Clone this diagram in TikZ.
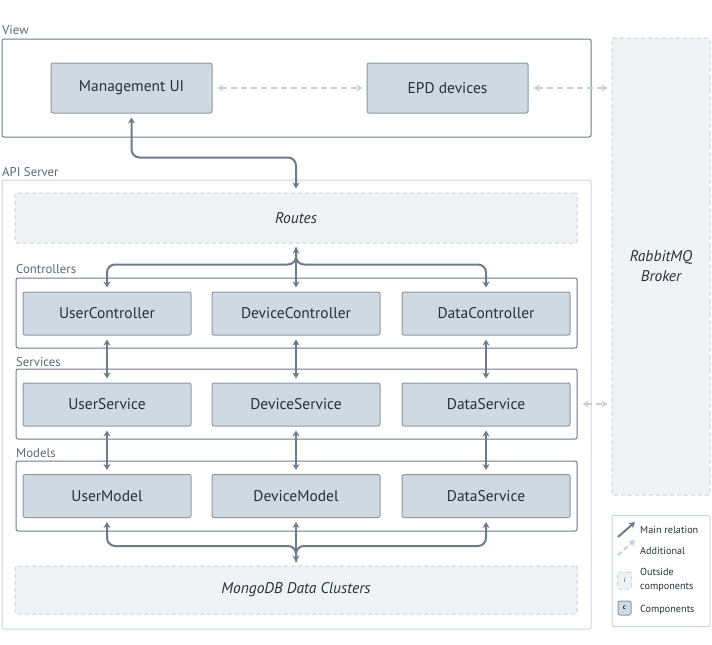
\documentclass[tikz,border=0pt]{standalone}
\usepackage{fontspec}
\setmainfont{PT Sans}
\usepackage{xcolor}
\usetikzlibrary{arrows.meta,calc}

\definecolor{edgegray}{HTML}{6E7B89}
\definecolor{litegray}{HTML}{C7D0D9}
\definecolor{compfill}{HTML}{CFD9E1}
\definecolor{compline}{HTML}{8C98A4}
\definecolor{outfill}{HTML}{F0F3F6}
\definecolor{outline}{HTML}{CBD3DB}
\definecolor{ink}{HTML}{27313B}
\definecolor{labelgray}{HTML}{5E6A76}

\tikzset{
  comp/.style={draw=compline, fill=compfill, line width=1pt, rounded corners=2pt,
    minimum width=168pt, minimum height=43pt, inner sep=0pt, text=ink,
    font=\fontsize{15.5}{17}\selectfont},
  outside/.style={draw=outline, fill=outfill, line width=1pt, dash pattern=on 4pt off 3pt,
    rounded corners=2pt, inner sep=0pt, text=ink, font=\fontsize{15.5}{20}\selectfont\itshape},
  group/.style={draw=edgegray, line width=1pt, rounded corners=2pt, inner sep=0pt},
  grouplabel/.style={anchor=base west, inner sep=0pt, text=labelgray,
    font=\fontsize{12.8}{14}\selectfont},
  mainrel/.style={draw=edgegray, line width=2pt, rounded corners=8pt,
    {Stealth[length=6pt,width=7pt]}-{Stealth[length=6pt,width=7pt]},
    shorten <=4pt, shorten >=4pt},
  branch/.style={draw=edgegray, line width=2pt, rounded corners=8pt,
    -{Stealth[length=6pt,width=7pt]}, shorten <=4pt, shorten >=4pt},
  addrel/.style={draw=litegray, line width=2pt, dash pattern=on 6pt off 4pt,
    {Stealth[length=6pt,width=7pt]}-{Stealth[length=6pt,width=7pt]},
    shorten <=5pt, shorten >=4pt},
  legtext/.style={anchor=base west, inner sep=0pt, text=ink, font=\fontsize{10.2}{12}\selectfont}
}

\begin{document}
\begin{tikzpicture}[x=1pt,y=-1pt]
\useasboundingbox (0,0) rectangle (712,645);
\def\cA{107}   % left column
\def\cB{296}   % middle column
\def\cC{486}   % right column

% View layer
\node[grouplabel] (viewlbl) at (2,34) {View};
\node[group, fill=white, minimum width=589pt, minimum height=98pt] (view) at (296.5,88) {};
\node[comp, minimum width=161pt, minimum height=50pt] (mgmt) at (131.5,88) {Management UI};
\node[comp, minimum width=161pt, minimum height=50pt] (epd) at (447.5,88) {EPD devices};

% RabbitMQ broker
\node[outside, minimum width=98pt, minimum height=457pt, align=center] (rabbit) at (661,266.5) {RabbitMQ\\Broker};

% API server
\node[grouplabel] (apilbl) at (2,176) {API Server};
\node[draw=outline, line width=1pt, rounded corners=2pt, inner sep=0pt,
  minimum width=589pt, minimum height=449pt] (api) at (296.5,404.5) {};
\node[outside, minimum width=562pt, minimum height=50pt] (routes) at (296,218) {Routes};

% Controllers
\node[grouplabel] (ctllbl) at (16,273) {Controllers};
\node[group, minimum width=561pt, minimum height=70pt] (ctl) at (296.5,313) {};
\node[comp] (uc) at (\cA,313.5) {UserController};
\node[comp] (dc) at (\cB,313.5) {DeviceController};
\node[comp] (tc) at (\cC,313.5) {DataController};

% Services
\node[grouplabel] (svclbl) at (16,366) {Services};
\node[group, minimum width=561pt, minimum height=70pt] (svc) at (296.5,404) {};
\node[comp] (us) at (\cA,404.5) {UserService};
\node[comp] (ds) at (\cB,404.5) {DeviceService};
\node[comp] (ts) at (\cC,404.5) {DataService};

% Models
\node[grouplabel] (mdllbl) at (16,457) {Models};
\node[group, minimum width=561pt, minimum height=70pt] (mdl) at (296.5,496) {};
\node[comp] (um) at (\cA,496) {UserModel};
\node[comp] (dm) at (\cB,496) {DeviceModel};
\node[comp] (tm) at (\cC,496) {DataService};

\node[outside, minimum width=562pt, minimum height=48pt] (mongo) at (296,590) {MongoDB Data Clusters};

% relations
\draw[addrel] (mgmt.east) -- (epd.west);
\draw[addrel] (epd.east) -- (rabbit.west |- epd.east);
\draw[addrel] (svc.east) -- (rabbit.west |- svc.east);
\draw[mainrel] (mgmt.south) -- ++(0,44) -| (routes.north);

\draw[mainrel] (routes.south) -- (dc.north);
\draw[branch] (routes.south) |- ($(uc.north)+(0,-27)$) -- (uc.north);
\draw[branch] (routes.south) |- ($(tc.north)+(0,-27)$) -- (tc.north);

\foreach \a/\b in {uc/us,dc/ds,tc/ts,us/um,ds/dm,ts/tm}
  \draw[mainrel] (\a.south) -- (\b.north);

\draw[mainrel] (dm.south) -- (mongo.north);
\draw[branch] (mongo.north) |- ($(um.south)+(0,28)$) -- (um.south);
\draw[branch] (mongo.north) |- ($(tm.south)+(0,28)$) -- (tm.south);

% legend
\node[draw=outline, line width=1pt, rounded corners=2pt, inner sep=0pt,
  minimum width=98pt, minimum height=111pt] (legend) at (661,571) {};
\coordinate (m1) at (618,537);
\coordinate (m2) at (635,522);
\coordinate (a1) at (618,555);
\coordinate (a2) at (635,540);
\draw[draw=edgegray, line width=2pt, -{Stealth[length=6pt,width=7pt]}] (m1) -- (m2);
\draw[draw=litegray, line width=2pt, dash pattern=on 5pt off 3pt, -{Stealth[length=6pt,width=7pt]}] (a1) -- (a2);
\node[legtext] (lmain) at (640,533) {Main relation};
\node[legtext] (ladd) at (640,554) {Additional};
\node[outside, minimum width=14pt, minimum height=17pt, font=\fontsize{7}{8}\selectfont\itshape] (lout) at (624.5,580.5) {i};
\node[legtext] (lout1) at (640,575) {Outside};
\node[legtext] (lout2) at (640,589) {components};
\node[comp, minimum width=13pt, minimum height=14pt, font=\fontsize{7}{8}\selectfont\bfseries] (lcomp) at (624.5,608) {c};
\node[legtext] (lcomp1) at (640,612) {Components};
\end{tikzpicture}
\end{document}
